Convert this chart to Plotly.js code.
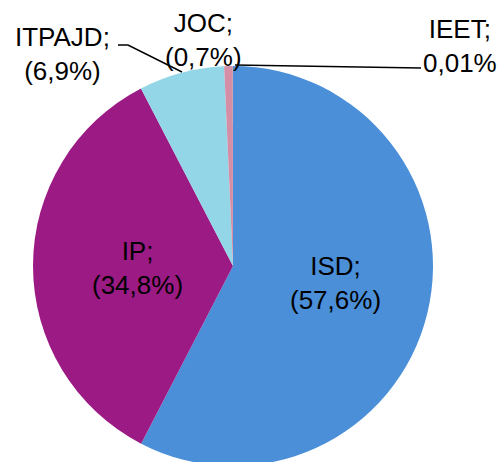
<!DOCTYPE html>
<html>
<head>
<meta charset="utf-8">
<script src="https://cdn.plot.ly/plotly-3.0.1.min.js"></script>
<style>
  html, body { margin: 0; padding: 0; overflow: hidden; background: #fff; }
</style>
</head>
<body>
<div id="chart"></div>
<script>
// shares of each category, in %
const labels = ['ISD', 'IP', 'ITPAJD', 'JOC', 'IEET'];
const values = [57.6, 34.8, 6.9, 0.7, 0.01];
const valueText = ['57,6', '34,8', '6,9', '0,7', '0,01'];
const colors = ['#4a8fd8', '#9b1a84', '#92d6e7', '#d48fa6', '#c8c8c8'];

const W = 502, H = 470;
const px = (x) => x / W;
const py = (y) => 1 - y / H;

// label block centres (pixels) and whether the value gets brackets
const labelPos = [[335, 283], [137, 268], [62, 54], [203, 40], [460, 46]];
const brackets = [true, true, true, true, false];

const pie = {
    type: 'pie',
    labels: labels,
    values: values,
    sort: false,
    direction: 'clockwise',
    rotation: 0,
    textinfo: 'none',
    hoverinfo: 'label+percent',
    marker: { colors: colors, line: { width: 0 } },
    domain: { x: [px(33), px(433)], y: [py(466), py(66)] },
    showlegend: false
};

const annotations = labels.map((lab, i) => ({
    xref: 'paper', yref: 'paper',
    x: px(labelPos[i][0]), y: py(labelPos[i][1]),
    xanchor: 'center', yanchor: 'middle',
    showarrow: false,
    text: lab + ';<br>' + (brackets[i] ? '(' + valueText[i] + '%)' : valueText[i] + '%'),
    font: { family: 'Liberation Sans, Arial, sans-serif', size: 26, color: '#000' }
}));

// leader lines for the small outside labels
const leader = (pts) => ({
    type: 'path', xref: 'paper', yref: 'paper',
    path: 'M ' + pts.map(p => px(p[0]) + ',' + py(p[1])).join(' L '),
    line: { color: '#000', width: 1.5 }
});

const layout = {
    width: W, height: H,
    margin: { l: 0, r: 0, t: 0, b: 0 },
    paper_bgcolor: '#fff',
    annotations: annotations,
    shapes: [
        leader([[118, 45], [128, 45], [182, 72]]),
        leader([[421, 68], [235, 65]])
    ]
};

Plotly.newPlot('chart', [pie], layout, { displayModeBar: false, staticPlot: true });
</script>
</body>
</html>
